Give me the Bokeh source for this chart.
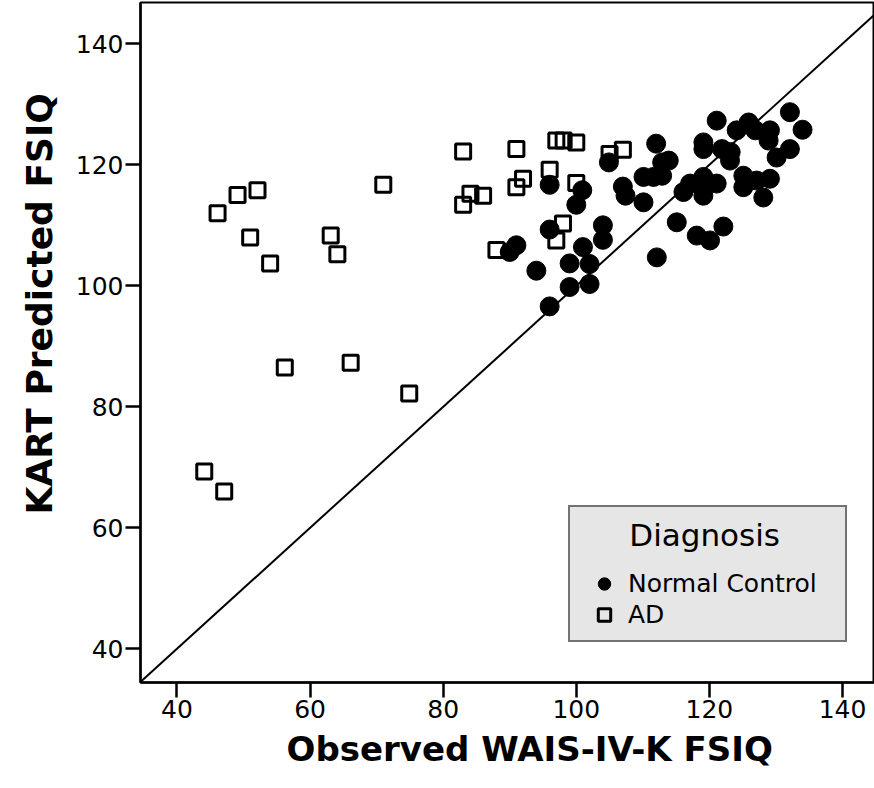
from bokeh.plotting import figure
from bokeh.models import Range1d, Legend, LegendItem, Slope, Title, FixedTicker
from bokeh.embed import file_html
from bokeh.resources import INLINE

# Normal Control (observed, predicted)
nc_x = [104.9, 96.0, 100.9, 100.0, 107.0, 107.4, 104.0, 104.0, 96.0, 91.0, 90.0, 94.0,
        99.0, 101.0, 102.0, 99.0, 102.0, 96.0, 112.0, 112.9, 113.9, 110.1, 111.6, 112.9,
        110.1, 121.1, 119.1, 119.1, 124.1, 125.9, 126.9, 129.1, 128.9, 132.1, 134.0, 132.1,
        130.1, 121.9, 123.2, 123.1, 119.1, 117.1, 118.9, 121.1, 116.1, 119.1, 125.1, 125.1,
        127.1, 129.1, 128.1, 115.1, 118.1, 120.1, 122.1, 112.1]
nc_y = [120.4, 116.7, 115.8, 113.4, 116.4, 114.9, 110.0, 107.6, 109.3, 106.7, 105.6, 102.5,
        103.7, 106.4, 103.6, 99.8, 100.3, 96.6, 123.5, 120.4, 120.7, 118.0, 118.0, 118.2,
        113.8, 127.3, 123.7, 122.6, 125.7, 127.0, 125.7, 125.7, 124.0, 128.7, 125.8, 122.6,
        121.2, 122.6, 122.1, 120.7, 118.0, 116.9, 116.9, 116.9, 115.5, 114.9, 118.2, 116.3,
        117.4, 117.7, 114.6, 110.5, 108.3, 107.5, 109.8, 104.7]

# AD (observed, predicted)
ad_x = [44.1, 47.1, 46.1, 49.1, 52.1, 51.0, 54.0, 56.2, 63.1, 64.1, 66.1, 71.0, 74.9,
        83.0, 91.0, 97.0, 98.1, 100.0, 105.0, 107.0, 83.0, 84.1, 86.0, 91.0, 92.0, 96.0,
        100.0, 98.0, 97.0, 88.0]
ad_y = [69.3, 66.0, 112.0, 115.0, 115.8, 108.0, 103.7, 86.5, 108.3, 105.2, 87.3, 116.7, 82.2,
        122.2, 122.6, 124.0, 124.0, 123.7, 121.8, 122.5, 113.4, 115.2, 114.9, 116.3, 117.7, 119.2,
        117.0, 110.3, 107.5, 105.9]

ticks = [40, 60, 80, 100, 120, 140]
x_title = "Observed WAIS-IV-K FSIQ"
y_title = "KART Predicted FSIQ"

p = figure(width=874, height=788, output_backend="svg", toolbar_location=None,
           x_range=Range1d(34.52, 144.81), y_range=Range1d(34.43, 146.83),
           min_border_left=140, min_border_right=0, min_border_top=2, min_border_bottom=106)
p.xgrid.visible = False
p.ygrid.visible = False
p.background_fill_color = "white"
p.border_fill_color = "white"
p.outline_line_color = "black"
p.outline_line_width = 2

p.add_layout(Slope(gradient=1, y_intercept=0, line_color="black", line_width=2))

r_ad = p.scatter(ad_x, ad_y, marker="square", size=15, fill_alpha=0,
                 line_color="black", line_width=3)
r_nc = p.scatter(nc_x, nc_y, marker="circle", size=19, fill_color="black",
                 line_color="black")

for ax in (p.xaxis[0], p.yaxis[0]):
    ax.ticker = FixedTicker(ticks=ticks)
    ax.axis_line_width = 2.5
    ax.axis_line_color = "black"
    ax.major_tick_line_width = 2.5
    ax.major_tick_line_color = "black"
    ax.major_tick_out = 15
    ax.major_tick_in = 0
    ax.minor_tick_out = 0
    ax.minor_tick_in = 0
    ax.major_label_text_font = "DejaVu Sans"
    ax.major_label_text_font_size = "25px"
    ax.major_label_text_color = "black"
    ax.major_label_standoff = 2

p.add_layout(Title(text=x_title, align="left", offset=146, standoff=13,
                   text_font="DejaVu Sans", text_font_style="bold",
                   text_font_size="34px", text_color="black"), "below")
p.add_layout(Title(text=y_title, align="left", offset=168, standoff=26,
                   text_font="DejaVu Sans", text_font_style="bold",
                   text_font_size="36px", text_color="black"), "left")

legend = Legend(items=[LegendItem(label="Normal Control", renderers=[r_nc]),
                       LegendItem(label="AD", renderers=[r_ad])],
                title="\u00a0\u00a0\u00a0\u00a0\u00a0Diagnosis",
                location=(428, 40))
legend.title_text_font = "DejaVu Sans"
legend.title_text_font_style = "normal"
legend.title_text_font_size = "31px"
legend.title_text_color = "black"
legend.title_standoff = 15
legend.label_text_font = "DejaVu Sans"
legend.label_text_font_size = "25px"
legend.label_text_color = "black"
legend.padding = 10
legend.glyph_width = 48
legend.glyph_height = 31
legend.label_height = 31
legend.spacing = 0
legend.label_standoff = 0
legend.label_width = 207
legend.background_fill_color = "#e6e6e6"
legend.background_fill_alpha = 1
legend.border_line_color = "black"
legend.border_line_width = 2
legend.margin = 0
p.add_layout(legend)

open("out.html", "w").write(file_html(p, INLINE))
